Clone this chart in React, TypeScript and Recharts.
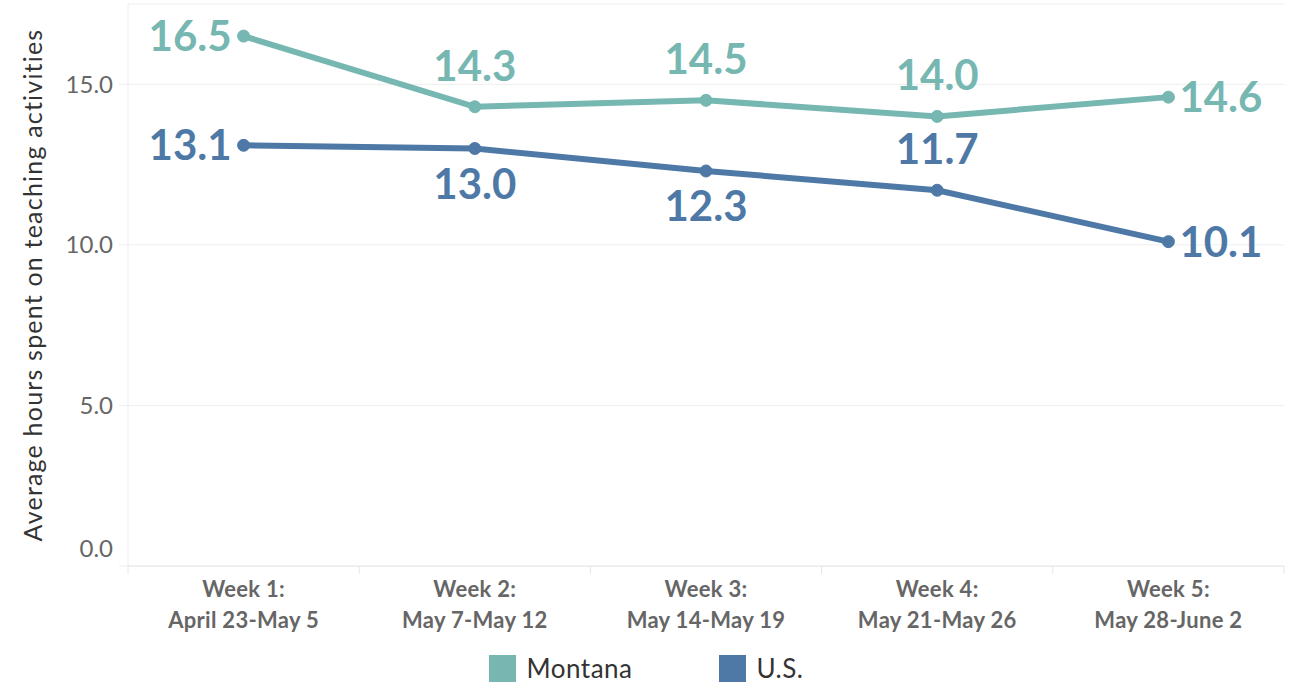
import React from "react";
import { LineChart, Line, XAxis, YAxis, CartesianGrid, Legend, LabelList } from "recharts";

const weeks = ["Week 1:|April 23-May 5", "Week 2:|May 7-May 12", "Week 3:|May 14-May 19", "Week 4:|May 21-May 26", "Week 5:|May 28-June 2"];
const montana = [16.5, 14.3, 14.5, 14.0, 14.6];
const us = [13.1, 13.0, 12.3, 11.7, 10.1];
const yTicks = [0, 5, 10, 15];

const montanaPlacement = ["left", "top", "top", "top", "right"];
const usPlacement = ["left", "bottom", "bottom", "top", "right"];

const TEAL = "#76b7b2";
const BLUE = "#4e79a7";
const FONT = "Lato, 'Open Sans', sans-serif";

const data = weeks.map((w, i) => ({ week: w, Montana: montana[i], US: us[i] }));

const PLOT_LEFT = 128;
const PLOT_RIGHT = 1284;
const BAND = (PLOT_RIGHT - PLOT_LEFT) / weeks.length;

const XTick = (props: any) => {
  const { x, y, payload, index } = props;
  const [l1, l2] = String(payload.value).split("|");
  return (
    <g>
      <line x1={x - BAND / 2} x2={x - BAND / 2} y1={y - 8} y2={y} stroke="#e6e6e6" strokeWidth={1} />
      {index === weeks.length - 1 && (
        <line x1={x + BAND / 2} x2={x + BAND / 2} y1={y - 8} y2={y} stroke="#e6e6e6" strokeWidth={1} />
      )}
      <text x={x} y={y + 23} textAnchor="middle" fill="#666" fontFamily={FONT} fontWeight={700} fontSize={22} letterSpacing={0.3}>{l1}</text>
      <text x={x} y={y + 54} textAnchor="middle" fill="#666" fontFamily={FONT} fontWeight={700} fontSize={22} letterSpacing={0.3}>{l2}</text>
    </g>
  );
};

const YTick = (props: any) => {
  const { x, y, payload } = props;
  const v = Number(payload.value);
  return (
    <text x={x} y={v === 0 ? y - 18 : y} dy="0.355em" textAnchor="end" fill="#666" fontFamily={FONT} fontSize={24}>
      {v.toFixed(1)}
    </text>
  );
};

const makeLabel = (placement: string[], color: string) => (props: any) => {
  const { x, y, value, index } = props;
  const p = placement[index];
  let tx = x, ty = y, anchor: any = "middle";
  if (p === "left") { tx = x - 12; anchor = "end"; ty = y + 15; }
  else if (p === "right") { tx = x + 11; anchor = "start"; ty = y + 15; }
  else if (p === "top") { ty = y - 26; }
  else { ty = y + 50; }
  return (
    <text x={tx} y={ty} textAnchor={anchor} fill={color} fontFamily={FONT} fontWeight={700} fontSize={42}>
      {Number(value).toFixed(1)}
    </text>
  );
};

const LegendContent = () => (
  <div style={{ display: "flex", justifyContent: "center", alignItems: "center", fontFamily: FONT, fontSize: 26, letterSpacing: 0.5, color: "#333", height: 34, paddingTop: 10, paddingLeft: 8 }}>
    <span style={{ display: "inline-block", width: 27, height: 27, background: TEAL, marginRight: 11 }} />
    <span style={{ marginRight: 86 }}>Montana</span>
    <span style={{ display: "inline-block", width: 27, height: 27, background: BLUE, marginRight: 11 }} />
    <span>U.S.</span>
  </div>
);

export default function App() {
  return (
    <div style={{ position: "absolute", left: 0, top: 0, width: 1289, height: 687, background: "#fff", overflow: "hidden" }}>
      <LineChart width={1289} height={687} data={data} margin={{ top: 4, right: 5, bottom: 0, left: 0 }}>
        <CartesianGrid vertical={false} stroke="#eeeeee" />
        <XAxis
          dataKey="week"
          axisLine={{ stroke: "#e6e6e6" }}
          tickLine={false}
          tickSize={8}
          tickMargin={0}
          height={75}
          interval={0}
          padding={{ left: BAND / 2, right: BAND / 2 }}
          tick={<XTick />}
        />
        <YAxis
          width={128}
          domain={[0, 17.5]}
          ticks={yTicks}
          axisLine={{ stroke: "#eeeeee" }}
          tickLine={{ stroke: "#eeeeee" }}
          tickSize={9}
          tickMargin={6}
          tick={<YTick />}
          label={{ value: "Average hours spent on teaching activities", angle: -90, position: "insideLeft", dx: 28, dy: 0, style: { textAnchor: "middle", fill: "#333", fontFamily: FONT, fontSize: 25, letterSpacing: 1.2 } }}
        />
        <Legend verticalAlign="bottom" height={46} content={<LegendContent />} />
        <Line dataKey="Montana" stroke={TEAL} strokeWidth={6} dot={{ r: 6, fill: TEAL, stroke: TEAL, strokeWidth: 1 }} isAnimationActive={false}>
          <LabelList dataKey="Montana" content={makeLabel(montanaPlacement, TEAL)} />
        </Line>
        <Line dataKey="US" name="U.S." stroke={BLUE} strokeWidth={6} dot={{ r: 6, fill: BLUE, stroke: BLUE, strokeWidth: 1 }} isAnimationActive={false}>
          <LabelList dataKey="US" content={makeLabel(usPlacement, BLUE)} />
        </Line>
      </LineChart>
    </div>
  );
}
